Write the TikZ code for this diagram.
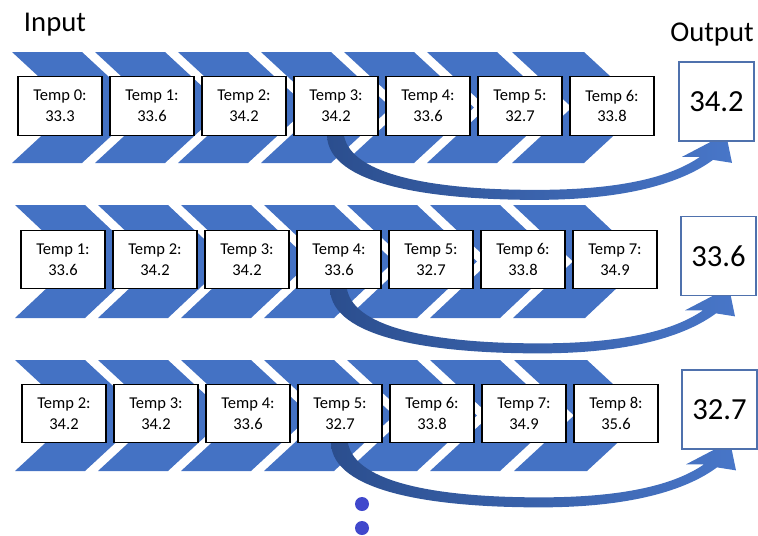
\documentclass[tikz,border=0pt]{standalone}
\usepackage{fontspec}
\setmainfont{Carlito}

\tikzset{every picture/.style={line width=0.75pt}}
\tikzset{
  chev/.style={fill={rgb, 255:red, 68; green, 114; blue, 196 }, draw=none},
  tempbox/.style={draw, fill=white, line width=0.8pt, minimum width=63pt, minimum height=44pt, align=center, inner sep=0pt, font=\fontsize{12.4}{15.5}\selectfont},
  outbox/.style={draw={rgb, 255:red, 79; green, 113; blue, 173 }, fill=white, line width=1.2pt, minimum width=56pt, minimum height=59pt, inner sep=0pt, font=\fontsize{23}{26}\selectfont},
  bigtext/.style={inner sep=0pt, font=\fontsize{21.5}{24}\selectfont},
  arrowshade/.style={left color={rgb, 255:red, 43; green, 78; blue, 142 }, right color={rgb, 255:red, 72; green, 118; blue, 200 }},
  dot/.style={circle, fill={rgb, 255:red, 64; green, 72; blue, 204 }, minimum size=10.5pt, inner sep=0pt}
}

\begin{document}
\begin{tikzpicture}[x=0.75pt,y=0.75pt,yscale=-1,xscale=1]
\useasboundingbox (0,0) rectangle (758,536);

%Shape: Chevron row 1
\fill [chev] (12,52) -- (82,52) -- (142,107.5) -- (82,163) -- (12,163) -- (72,107.5) -- cycle ;
\fill [chev] (95,52) -- (165,52) -- (225,107.5) -- (165,163) -- (95,163) -- (155,107.5) -- cycle ;
\fill [chev] (178,52) -- (248,52) -- (308,107.5) -- (248,163) -- (178,163) -- (238,107.5) -- cycle ;
\fill [chev] (261,52) -- (331,52) -- (391,107.5) -- (331,163) -- (261,163) -- (321,107.5) -- cycle ;
\fill [chev] (344,52) -- (414,52) -- (474,107.5) -- (414,163) -- (344,163) -- (404,107.5) -- cycle ;
\fill [chev] (427,52) -- (497,52) -- (557,107.5) -- (497,163) -- (427,163) -- (487,107.5) -- cycle ;
\fill [chev] (512,52) -- (584,52) -- (644,107.5) -- (584,163) -- (512,163) -- (572,107.5) -- cycle ;
%Shape: Chevron row 2
\fill [chev] (15,205) -- (85,205) -- (145,261.5) -- (85,318) -- (15,318) -- (75,261.5) -- cycle ;
\fill [chev] (98,205) -- (168,205) -- (228,261.5) -- (168,318) -- (98,318) -- (158,261.5) -- cycle ;
\fill [chev] (181,205) -- (251,205) -- (311,261.5) -- (251,318) -- (181,318) -- (241,261.5) -- cycle ;
\fill [chev] (264,205) -- (334,205) -- (394,261.5) -- (334,318) -- (264,318) -- (324,261.5) -- cycle ;
\fill [chev] (347,205) -- (417,205) -- (477,261.5) -- (417,318) -- (347,318) -- (407,261.5) -- cycle ;
\fill [chev] (430,205) -- (500,205) -- (560,261.5) -- (500,318) -- (430,318) -- (490,261.5) -- cycle ;
\fill [chev] (513,205) -- (585,205) -- (645,261.5) -- (585,318) -- (513,318) -- (573,261.5) -- cycle ;
%Shape: Chevron row 3
\fill [chev] (15,360) -- (85,360) -- (145,415.5) -- (85,471) -- (15,471) -- (75,415.5) -- cycle ;
\fill [chev] (98,360) -- (168,360) -- (228,415.5) -- (168,471) -- (98,471) -- (158,415.5) -- cycle ;
\fill [chev] (181,360) -- (251,360) -- (311,415.5) -- (251,471) -- (181,471) -- (241,415.5) -- cycle ;
\fill [chev] (264,360) -- (334,360) -- (394,415.5) -- (334,471) -- (264,471) -- (324,415.5) -- cycle ;
\fill [chev] (347,360) -- (417,360) -- (477,415.5) -- (417,471) -- (347,471) -- (407,415.5) -- cycle ;
\fill [chev] (430,360) -- (500,360) -- (560,415.5) -- (500,471) -- (430,471) -- (490,415.5) -- cycle ;
\fill [chev] (514,360) -- (587,360) -- (647,415.5) -- (587,471) -- (514,471) -- (574,415.5) -- cycle ;

% Text Node
\node [tempbox] (r1t0) at (60,106) {Temp 0:\\33.3};
\node [tempbox] (r1t1) at (152,106) {Temp 1:\\33.6};
\node [tempbox] (r1t2) at (244,106) {Temp 2:\\34.2};
\node [tempbox] (r1t3) at (336,106) {Temp 3:\\34.2};
\node [tempbox] (r1t4) at (428,106) {Temp 4:\\33.6};
\node [tempbox] (r1t5) at (520,106) {Temp 5:\\32.7};
\node [tempbox] (r1t6) at (612,106) {Temp 6:\\33.8};
% Text Node
\node [tempbox] (r2t1) at (63,259.5) {Temp 1:\\33.6};
\node [tempbox] (r2t2) at (155,259.5) {Temp 2:\\34.2};
\node [tempbox] (r2t3) at (247,259.5) {Temp 3:\\34.2};
\node [tempbox] (r2t4) at (339,259.5) {Temp 4:\\33.6};
\node [tempbox] (r2t5) at (431,259.5) {Temp 5:\\32.7};
\node [tempbox] (r2t6) at (523,259.5) {Temp 6:\\33.8};
\node [tempbox] (r2t7) at (615,259.5) {Temp 7:\\34.9};
% Text Node
\node [tempbox] (r3t2) at (64,413.5) {Temp 2:\\34.2};
\node [tempbox] (r3t3) at (156,413.5) {Temp 3:\\34.2};
\node [tempbox] (r3t4) at (248,413.5) {Temp 4:\\33.6};
\node [tempbox] (r3t5) at (340,413.5) {Temp 5:\\32.7};
\node [tempbox] (r3t6) at (432,413.5) {Temp 6:\\33.8};
\node [tempbox] (r3t7) at (524,413.5) {Temp 7:\\34.9};
\node [tempbox] (r3t8) at (616,413.5) {Temp 8:\\35.6};

%Curved Arrows
\shade [arrowshade, shift={(r1t3.south)}] (-9,-4) -- (-9,0) .. controls (-7,48) and (90,64) .. (200,64) .. controls (290,64) and (346,47) .. (377,24) -- (396,27) -- (390,-2) -- (346,21) -- (364,21) .. controls (335,41) and (285,54) .. (200,54) .. controls (100,54) and (16,40) .. (8,0) -- (8,-4) -- cycle ;
\shade [arrowshade, shift={(r2t4.south)}] (-9,-4) -- (-9,0) .. controls (-7,48) and (90,64) .. (200,64) .. controls (290,64) and (346,47) .. (377,24) -- (396,27) -- (390,-2) -- (346,21) -- (364,21) .. controls (335,41) and (285,54) .. (200,54) .. controls (100,54) and (16,40) .. (8,0) -- (8,-4) -- cycle ;
\shade [arrowshade, shift={(r3t5.south)}] (-9,-4) -- (-9,0) .. controls (-7,48) and (90,64) .. (200,64) .. controls (290,64) and (346,47) .. (377,24) -- (396,27) -- (390,-2) -- (346,21) -- (364,21) .. controls (335,41) and (285,54) .. (200,54) .. controls (100,54) and (16,40) .. (8,0) -- (8,-4) -- cycle ;
% redraw the start boxes over the arrow tails
\node [tempbox] at (r1t3) {Temp 3:\\34.2};
\node [tempbox] at (r2t4) {Temp 4:\\33.6};
\node [tempbox] at (r3t5) {Temp 5:\\32.7};

% Output boxes
\node [outbox] (out1) at (716.5,101.5) {34.2};
\node [outbox] (out2) at (718.5,256) {33.6};
\node [outbox] (out3) at (719.5,409.5) {32.7};

% Text Node
\node [bigtext] (lblin) at (55,25) {Input};
\node [bigtext] (lblout) at (712,35) {Output};

% More dots
\node [dot] (dot1) at (362,504) {};
\node [dot] (dot2) at (362,528) {};

\end{tikzpicture}
\end{document}
